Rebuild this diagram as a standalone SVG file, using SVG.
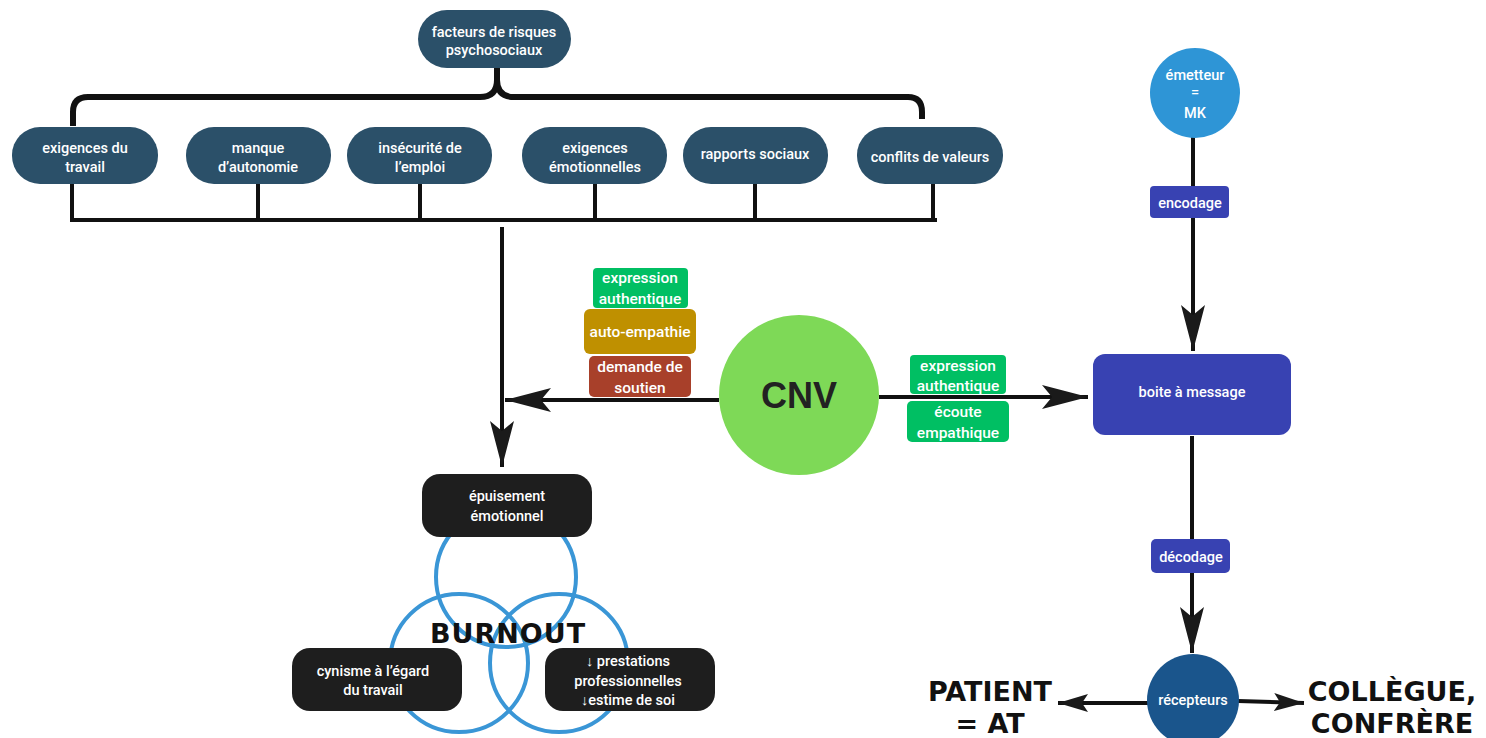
<svg xmlns="http://www.w3.org/2000/svg" width="1486" height="738" viewBox="0 0 1486 738">
<style>
.bg{fill:#ffffff}
.teal{fill:#2b5069}
.dark{fill:#1e1e1e}
.indigo{fill:#3842b2}
.green{fill:#00bf63}
.t{font-family:Roboto,"Liberation Sans",Arial,sans-serif;font-weight:500;font-size:14.5px;fill:#ffffff;text-anchor:middle}
.tl{font-family:Roboto,"Liberation Sans",Arial,sans-serif;font-weight:500;font-size:15.5px;fill:#ffffff;text-anchor:middle}
.big{font-family:"DejaVu Sans",sans-serif;font-weight:bold;font-size:27px;fill:#111111;text-anchor:middle}
.ln{stroke:#111111;stroke-width:4;fill:none}
.br{stroke:#111111;stroke-width:6;fill:none;stroke-linecap:butt}
.ring{stroke:#3a96d6;stroke-width:4;fill:none}
</style>
<defs>
<marker id="ah" markerUnits="userSpaceOnUse" viewBox="0 0 46 24" refX="46" refY="12" markerWidth="46" markerHeight="24" orient="auto">
<path d="M0,0 L46,12 L0,24 L10,12 Z" fill="#1a1a1a"/>
</marker>
<marker id="ahs" markerUnits="userSpaceOnUse" viewBox="0 0 30 18" refX="30" refY="9" markerWidth="30" markerHeight="18" orient="auto">
<path d="M0,0 L30,9 L0,18 L6,9 Z" fill="#1a1a1a"/>
</marker>
</defs>
<rect class="bg" x="0" y="0" width="1486" height="738"/>

<g id="connectors">
<path class="br" d="M497,68 V80 Q497,97 480,97 H88 Q73,97 73,112 V126"/>
<path class="br" d="M497,80 Q497,97 514,97 H908 Q922,97 922,112 V119"/>
<path class="ln" d="M72,184 V220 M258,184 V220 M420,184 V220 M595,184 V220 M755,184 V220 M933,184 V220"/>
<path class="ln" d="M70,220 H937"/>
<line class="ln" x1="502" y1="227" x2="502" y2="467" marker-end="url(#ah)"/>
<line class="ln" x1="719" y1="400" x2="505" y2="400" marker-end="url(#ah)"/>
<line class="ln" x1="879" y1="397" x2="1088" y2="397" marker-end="url(#ah)"/>
<line class="ln" x1="1193" y1="137" x2="1193" y2="351" marker-end="url(#ah)"/>
<line class="ln" x1="1192" y1="436" x2="1192" y2="653" marker-end="url(#ah)"/>
<line class="ln" x1="1148" y1="703" x2="1058" y2="703" marker-end="url(#ahs)"/>
<line class="ln" x1="1238" y1="701" x2="1304" y2="703" marker-end="url(#ahs)"/>
</g>

<g id="n-facteurs">
<rect class="teal" x="418" y="10" width="153" height="58" rx="29"/>
<text class="t" x="494" y="37">facteurs de risques</text>
<text class="t" x="494" y="55">psychosociaux</text>
</g>
<g id="n-exigences-travail">
<rect class="teal" x="12" y="127" width="146" height="57" rx="28"/>
<text class="t" x="85" y="153">exigences du</text>
<text class="t" x="85" y="172">travail</text>
</g>
<g id="n-autonomie">
<rect class="teal" x="186" y="127" width="145" height="57" rx="28"/>
<text class="t" x="258" y="153">manque</text>
<text class="t" x="258" y="172">d’autonomie</text>
</g>
<g id="n-insecurite">
<rect class="teal" x="347" y="127" width="145" height="57" rx="28"/>
<text class="t" x="420" y="153">insécurité de</text>
<text class="t" x="420" y="172">l’emploi</text>
</g>
<g id="n-exigences-emo">
<rect class="teal" x="522" y="127" width="145" height="57" rx="28"/>
<text class="t" x="595" y="153">exigences</text>
<text class="t" x="595" y="172">émotionnelles</text>
</g>
<g id="n-rapports">
<rect class="teal" x="683" y="127" width="145" height="57" rx="28"/>
<text class="t" x="755" y="159">rapports sociaux</text>
</g>
<g id="n-conflits">
<rect class="teal" x="857" y="127" width="146" height="57" rx="28"/>
<text class="t" x="930" y="162">conflits de valeurs</text>
</g>

<g id="n-cnv">
<circle cx="799" cy="395" r="80" fill="#7ed957"/>
<text x="799" y="408" font-family="Liberation Sans,Arial,sans-serif" font-weight="bold" font-size="36" fill="#222222" text-anchor="middle">CNV</text>
</g>
<g id="l-expr-left">
<rect class="green" x="593" y="268" width="95" height="40" rx="4"/>
<text class="tl" x="640" y="283">expression</text>
<text class="tl" x="640" y="304">authentique</text>
</g>
<g id="l-auto">
<rect x="584" y="309" width="112" height="45" rx="6" fill="#bf9000"/>
<text class="tl" x="640" y="337">auto-empathie</text>
</g>
<g id="l-demande">
<rect x="589" y="356" width="102" height="41" rx="5" fill="#a8402a"/>
<text class="tl" x="640" y="372">demande de</text>
<text class="tl" x="640" y="393">soutien</text>
</g>
<g id="l-expr-right">
<rect class="green" x="910" y="355" width="96" height="39" rx="4"/>
<text class="tl" x="958" y="371">expression</text>
<text class="tl" x="958" y="391">authentique</text>
</g>
<g id="l-ecoute">
<rect class="green" x="907" y="401" width="102" height="41" rx="5"/>
<text class="tl" x="958" y="417">écoute</text>
<text class="tl" x="958" y="438">empathique</text>
</g>

<g id="n-emetteur">
<circle cx="1195" cy="93" r="45" fill="#2e95d6"/>
<text class="t" x="1195" y="80" font-size="13.5">émetteur</text>
<text class="t" x="1195" y="97" font-size="11">=</text>
<text class="t" x="1195" y="118" font-size="13.5" font-weight="bold">MK</text>
</g>
<g id="l-encodage">
<rect class="indigo" x="1150" y="186" width="79" height="32" rx="4"/>
<text class="t" x="1190" y="208">encodage</text>
</g>
<g id="n-boite">
<rect class="indigo" x="1093" y="354" width="198" height="81" rx="12"/>
<text class="t" x="1192" y="397">boite à message</text>
</g>
<g id="l-decodage">
<rect class="indigo" x="1151" y="539" width="79" height="34" rx="5"/>
<text class="t" x="1191" y="562">décodage</text>
</g>
<g id="n-recepteurs">
<circle cx="1193" cy="700" r="46" fill="#1a558c"/>
<text class="t" x="1193" y="705" font-size="13">récepteurs</text>
</g>
<g id="t-patient">
<text class="big" x="990" y="701">PATIENT</text>
<text class="big" x="990" y="733">= AT</text>
</g>
<g id="t-collegue">
<text class="big" x="1392" y="701">COLLÈGUE,</text>
<text class="big" x="1392" y="733">CONFRÈRE</text>
</g>

<g id="burnout">
<circle class="ring" cx="506" cy="577" r="70"/>
<circle class="ring" cx="459" cy="663" r="69"/>
<circle class="ring" cx="559" cy="663" r="69"/>
<text class="big" x="508" y="643" letter-spacing="1">BURNOUT</text>
</g>
<g id="n-epuisement">
<rect class="dark" x="422" y="474" width="170" height="63" rx="18"/>
<text class="t" x="507" y="501">épuisement</text>
<text class="t" x="507" y="521">émotionnel</text>
</g>
<g id="n-cynisme">
<rect class="dark" x="292" y="648" width="170" height="63" rx="18"/>
<text class="t" x="373" y="676">cynisme à l’égard</text>
<text class="t" x="373" y="695">du travail</text>
</g>
<g id="n-prestations">
<rect class="dark" x="545" y="648" width="170" height="63" rx="18"/>
<text class="t" x="628" y="666">↓ prestations</text>
<text class="t" x="628" y="686">professionnelles</text>
<text class="t" x="628" y="705">↓estime de soi</text>
</g>
</svg>
